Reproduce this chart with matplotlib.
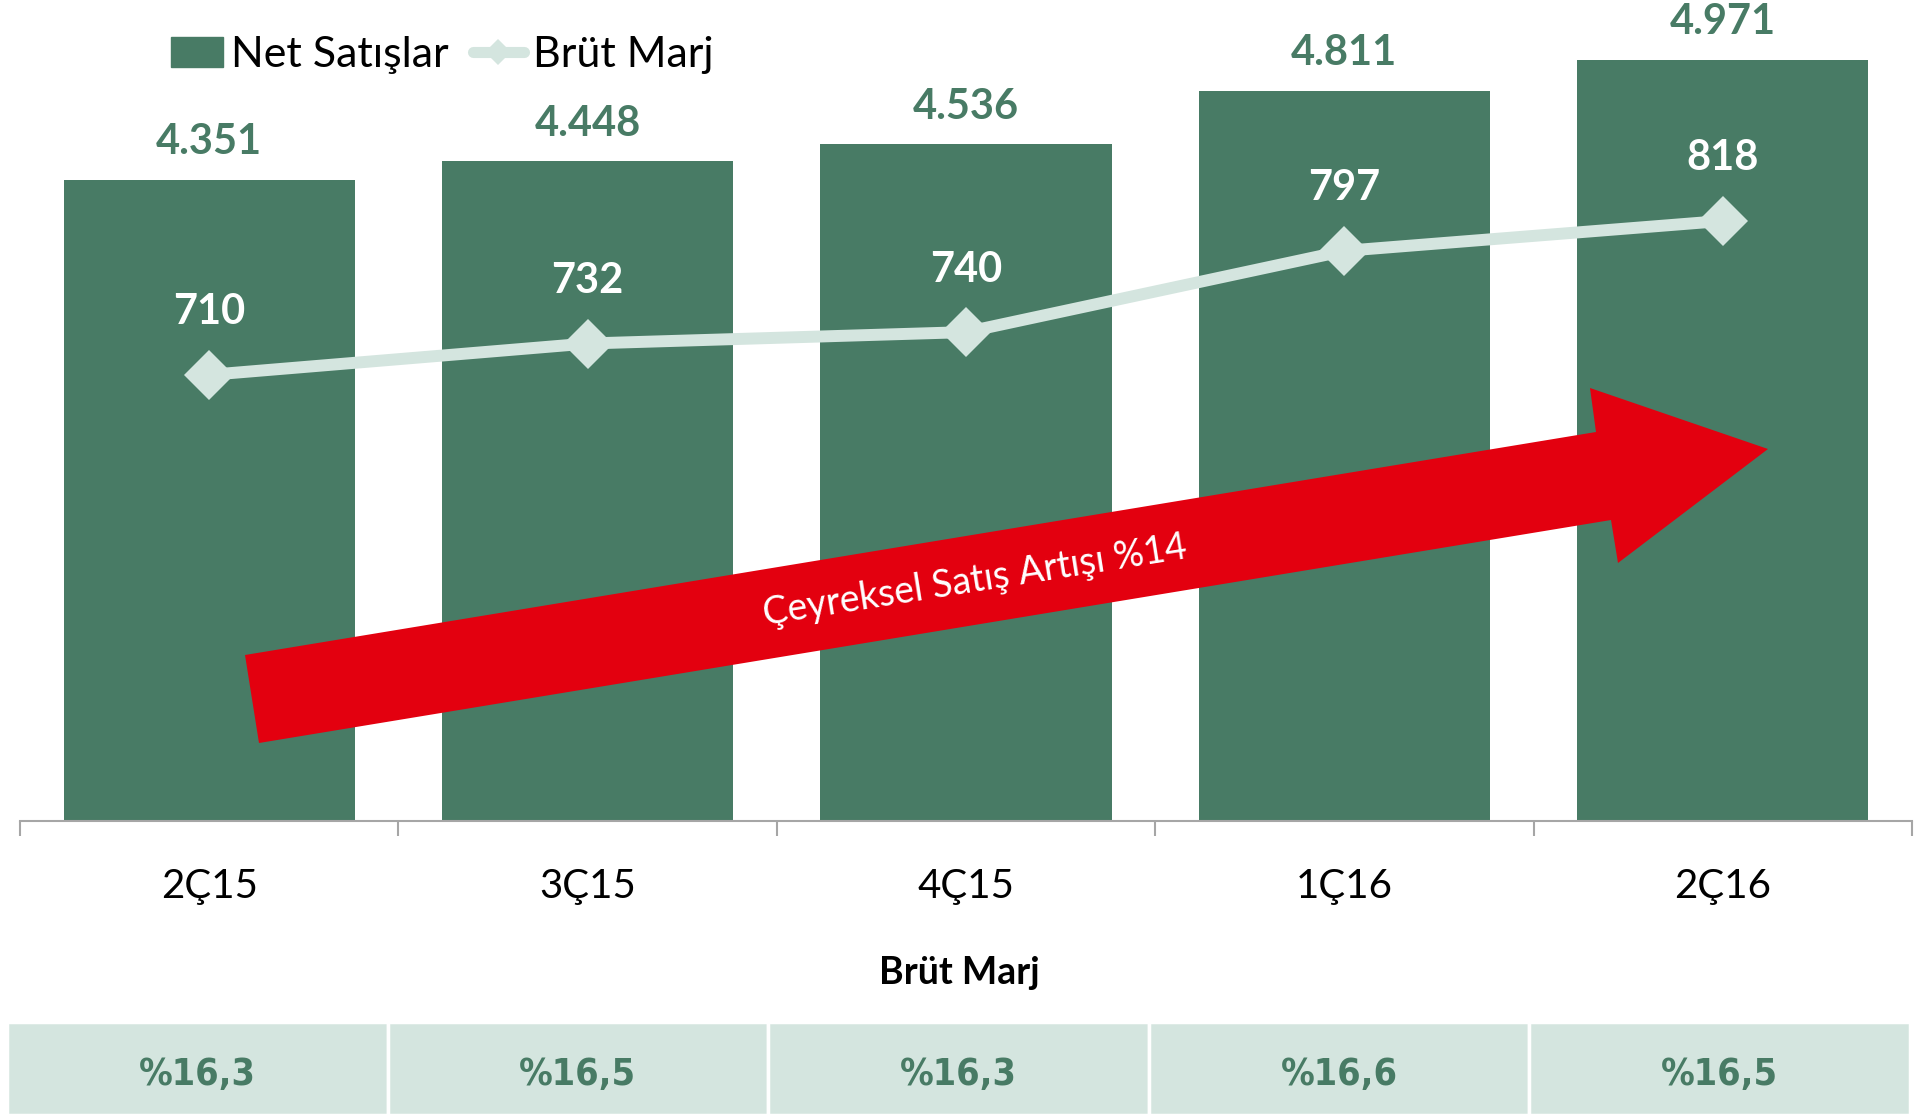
import matplotlib
matplotlib.use("Agg")
import matplotlib.pyplot as plt
import numpy as np
from matplotlib.patches import Polygon, Patch
from matplotlib.lines import Line2D

# DATA
quarters = ["2Ç15", "3Ç15", "4Ç15", "1Ç16", "2Ç16"]
net_sales = [4351, 4448, 4536, 4811, 4971]
gross_profit = [710, 732, 740, 797, 818]
gross_margin = [16.3, 16.5, 16.3, 16.6, 16.5]

GREEN = "#487B65"
LIGHT = "#D4E5DF"
RED = "#E3000F"
W, H = 1928, 1115

plt.rcParams["font.family"] = ["Lato", "DejaVu Sans"]

fig = plt.figure(figsize=(W / 100, H / 100), dpi=100)

# MAIN AXES (BARS)
ax = fig.add_axes([20 / W, 1 - 821 / H, 1892 / W, 821 / H])
x = np.arange(len(quarters))
bars = ax.bar(x, net_sales, width=0.77, color=GREEN, zorder=2)
ax.set_xlim(-0.5, len(quarters) - 0.5)
ax.set_ylim(1039, 5281)

for xi, v in zip(x, net_sales):
    ax.annotate(f"{v:,}".replace(",", "."), (xi, v), xytext=(0, 27),
                textcoords="offset points", ha="center", va="center",
                fontsize=30, fontweight="bold", color=GREEN)

for s in ["left", "right", "top"]:
    ax.spines[s].set_visible(False)
ax.spines["bottom"].set_color("#A6A6A6")
ax.spines["bottom"].set_linewidth(1.5)
ax.set_yticks([])
ax.set_xticks(x)
ax.set_xticklabels(quarters, fontsize=29)
ax.set_xticks(np.arange(-0.5, len(quarters), 1), minor=True)
ax.tick_params(axis="x", which="major", length=0, pad=34)
ax.tick_params(axis="x", which="minor", length=11, width=1.5, color="#A6A6A6")

# LINE ON SECONDARY AXIS
ax2 = ax.twinx()
ax2.set_ylim(397, 973)
ax2.plot(x, gross_profit, color=LIGHT, lw=8.6, marker="D", ms=25, mew=0,
         solid_capstyle="round")
for xi, v in zip(x, gross_profit):
    ax2.annotate(str(v), (xi, v), xytext=(0, 45), textcoords="offset points",
                 ha="center", va="center", fontsize=30, fontweight="bold",
                 color="white")
for s in ax2.spines.values():
    s.set_visible(False)
ax2.set_yticks([])

# LEGEND
handles = [Patch(color=GREEN),
           Line2D([], [], color=LIGHT, lw=8, marker="D", ms=13, mew=0,
                  solid_capstyle="round")]
fig.legend(handles, ["Net Satışlar", "Brüt Marj"], loc="center left",
           bbox_to_anchor=(171 / W, 1 - 55 / H), ncol=2, frameon=False,
           fontsize=31, handlelength=1.2, handleheight=0.68,
           handletextpad=0.2, columnspacing=0.55, borderpad=0,
           borderaxespad=0)

# ARROW
arrow_px = [(245, 655), (1596, 432), (1590, 388), (1768, 449),
            (1618, 563), (1611, 520), (259, 743)]
arrow = Polygon([(px / W, 1 - py / H) for px, py in arrow_px],
                closed=True, transform=fig.transFigure, facecolor=RED,
                edgecolor="none", zorder=5)
fig.add_artist(arrow)
fig.text(975 / W, 1 - 581 / H, "Çeyreksel Satış Artışı %14", color="white",
         fontsize=27, rotation=9, rotation_mode="anchor", ha="center",
         va="center", zorder=6)

# MARGIN TABLE
fig.text(959 / W, 1 - 973 / H, "Brüt Marj", ha="center", va="center",
         fontsize=27, fontweight="bold")
tax = fig.add_axes([7 / W, 0, 1903 / W, 93 / H])
tax.bar(x, 1, width=1, color=LIGHT, edgecolor="white", linewidth=2.5)
tax.set_xlim(-0.5, len(quarters) - 0.5)
tax.set_ylim(0, 1)
tax.axis("off")
for xi, m in zip(x, gross_margin):
    tax.text(xi, 0.43, "%" + f"{m:.1f}".replace(".", ","), ha="center",
             va="center", fontsize=27, fontweight="bold", color=GREEN,
             family=["DejaVu Sans"], fontstretch="condensed")

fig.savefig("out.png", dpi=100)
